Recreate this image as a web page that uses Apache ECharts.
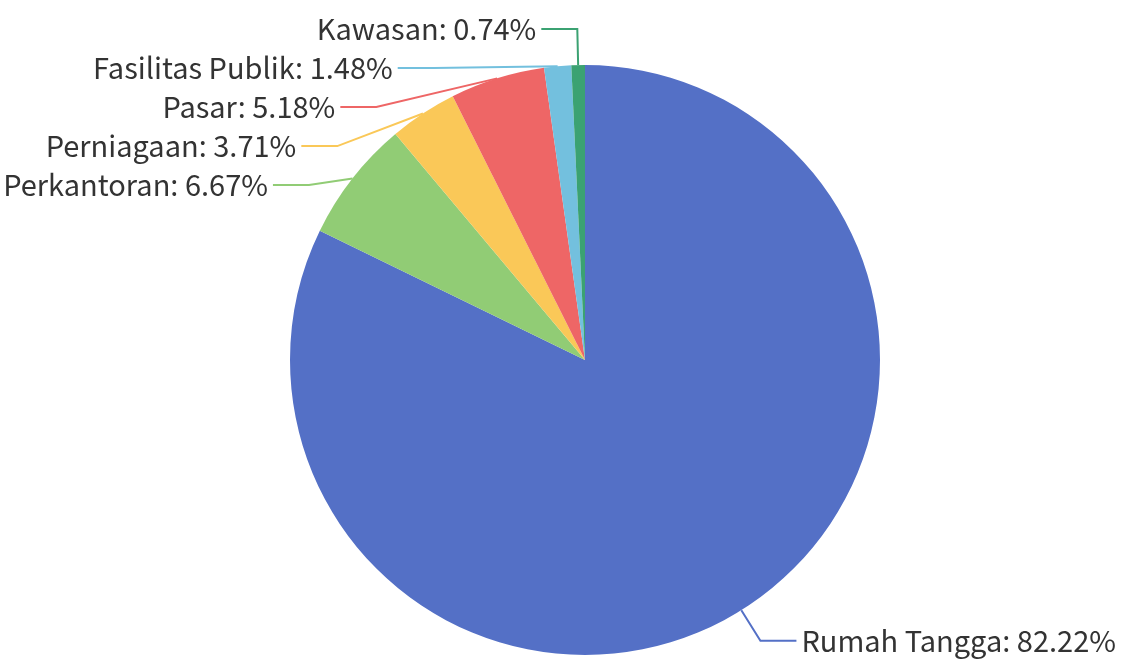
<!DOCTYPE html>
<html>
<head>
<meta charset="utf-8">
<script src="https://cdn.jsdelivr.net/npm/echarts@6/dist/echarts.min.js"></script>
<style>html,body{margin:0;padding:0;background:#fff;}#c{width:1129px;height:661px;}</style>
</head>
<body>
<div id="c"></div>
<script>
const categories = ['Rumah Tangga', 'Perkantoran', 'Perniagaan', 'Pasar', 'Fasilitas Publik', 'Kawasan'];
const values = [82.22, 6.67, 3.71, 5.18, 1.48, 0.74];
const colors = ['#5470c6', '#91cc75', '#fac858', '#ee6666', '#73c0de', '#3ba272'];

const chart = echarts.init(document.getElementById('c'), null, {renderer: 'canvas'});
chart.setOption({
  animation: false,
  color: colors,
  series: [{
    type: 'pie',
    center: [585, 360],
    radius: 295,
    startAngle: 90,
    data: categories.map((c, i) => ({name: c, value: values[i]})),
    label: {
      formatter: '{b}: {d}%',
      fontSize: 29,
      lineHeight: 37,
      overflow: 'none',
      color: '#333',
      fontFamily: '"Noto Sans CJK SC", "Noto Sans", sans-serif'
    },
    labelLine: {
      length: 36,
      length2: 36,
      lineStyle: {width: 2}
    }
  }]
});
</script>
</body>
</html>
